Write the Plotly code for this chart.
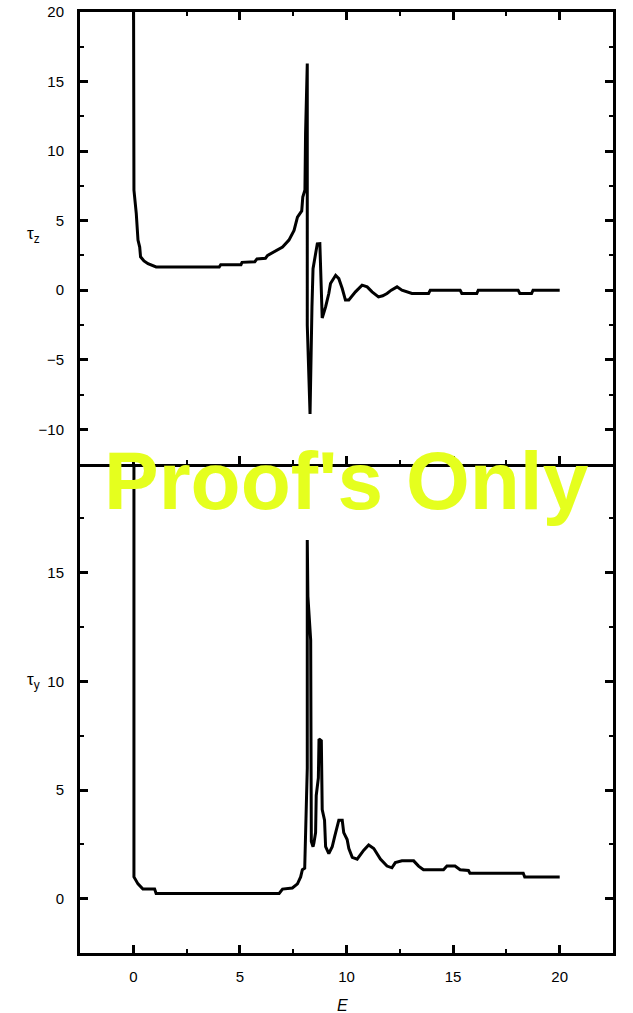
import plotly.graph_objects as go
from plotly.subplots import make_subplots

# ---- data ----
E_z = [0.0, 0.03, 0.14, 0.22, 0.30, 0.34, 0.50, 0.69, 1.07, 4.03, 4.10, 5.05, 5.10, 5.70, 5.80,
       6.20, 6.30, 6.60, 7.00, 7.30, 7.54, 7.70, 7.90, 7.95, 8.05, 8.08, 8.16, 8.16, 8.29, 8.38,
       8.43, 8.63, 8.75, 8.86, 9.02, 9.17, 9.25, 9.49, 9.64, 9.80, 9.95, 10.11, 10.42, 10.73,
       10.97, 11.20, 11.50, 11.70, 11.90, 12.10, 12.37, 12.60, 13.07, 13.85, 13.93, 15.33,
       15.41, 16.11, 16.18, 18.05, 18.13, 18.68, 18.75, 20.0]
tau_z = [30.0, 7.2, 5.5, 3.6, 3.1, 2.4, 2.1, 1.9, 1.67, 1.67, 1.83, 1.83, 2.0, 2.05, 2.25,
         2.3, 2.5, 2.75, 3.1, 3.6, 4.3, 5.25, 5.7, 6.7, 7.2, 11.3, 16.3, -2.5, -8.9, -1.2,
         1.55, 3.33, 3.35, -2.0, -1.2, -0.24, 0.48, 1.07, 0.83, 0.12, -0.71, -0.71, -0.12, 0.36,
         0.24, -0.12, -0.48, -0.4, -0.24, 0.0, 0.24, 0.0, -0.24, -0.24, 0.0, 0.0,
         -0.24, -0.24, 0.0, 0.0, -0.24, -0.24, 0.0, 0.0]

E_y = [0.03, 0.03, 0.22, 0.45, 1.00, 1.07, 6.84, 7.00, 7.46, 7.70, 7.85, 7.93, 8.04, 8.10,
       8.16, 8.16, 8.19, 8.32, 8.35, 8.43, 8.47, 8.55, 8.58, 8.68, 8.71, 8.82, 8.86, 8.97,
       9.02, 9.17, 9.33, 9.45, 9.56, 9.64, 9.80, 9.87, 10.03, 10.11, 10.27, 10.50, 10.81,
       11.04, 11.28, 11.59, 11.90, 12.13, 12.29, 12.60, 13.15, 13.38, 13.61, 14.55, 14.71,
       15.09, 15.33, 15.72, 15.79, 18.29, 18.36, 20.0]
tau_y = [30.0, 1.0, 0.68, 0.44, 0.44, 0.24, 0.24, 0.44, 0.49, 0.68, 1.0, 1.33, 1.4, 3.9,
         6.0, 16.5, 13.9, 11.9, 2.63, 2.39, 2.55, 3.04, 4.75, 5.56, 7.35, 7.27, 4.1, 3.61,
         2.39, 2.07, 2.39, 2.88, 3.37, 3.61, 3.61, 3.04, 2.72, 2.31, 1.9, 1.82, 2.23,
         2.47, 2.31, 1.82, 1.5, 1.42, 1.66, 1.74, 1.74, 1.5, 1.33, 1.33, 1.5,
         1.5, 1.33, 1.3, 1.17, 1.17, 1.0, 1.0]

x_ticks = [0, 5, 10, 15, 20]
yz_ticks = [-10, -5, 0, 5, 10, 15, 20]
yy_ticks = [0, 5, 10, 15]

FONT = "Liberation Sans, Arial, Helvetica, sans-serif"

fig = make_subplots(rows=2, cols=1, shared_xaxes=True, vertical_spacing=0,
                    row_heights=[0.4804, 0.5196])

fig.add_trace(go.Scatter(x=E_z, y=tau_z, mode="lines",
                         line=dict(color="black", width=3), showlegend=False), row=1, col=1)
fig.add_trace(go.Scatter(x=E_y, y=tau_y, mode="lines",
                         line=dict(color="black", width=3), showlegend=False), row=2, col=1)

common_axis = dict(showline=True, linecolor="black", linewidth=3, showgrid=False,
                   zeroline=False, ticks="inside", ticklen=8, tickwidth=3, tickcolor="black",
                   automargin=False, ticklabeloverflow="allow",
                   tickfont=dict(family=FONT, size=15, color="black"))
minor_ticks = dict(ticks="inside", ticklen=4, tickwidth=2, tickcolor="black",
                   tick0=0, dtick=2.5)

fig.update_xaxes(range=[-2.5, 22.5], tickvals=x_ticks, minor=minor_ticks, **common_axis)
fig.update_xaxes(showticklabels=False, mirror="allticks", row=1, col=1)
fig.update_xaxes(ticklabelstandoff=8, mirror=False, row=2, col=1)

fig.update_yaxes(mirror="allticks", ticklabelstandoff=10, minor=minor_ticks, **common_axis)
fig.update_yaxes(range=[-12.5, 20], tickvals=yz_ticks, row=1, col=1)
fig.update_yaxes(range=[-2.5, 20], tickvals=yy_ticks, row=2, col=1)

annotations = [
    dict(text="τ<sub>z</sub>", x=-0.103, y=0.777, xref="paper", yref="paper",
         showarrow=False, font=dict(family=FONT, size=17, color="black")),
    dict(text="τ<sub>y</sub>", x=-0.103, y=0.275, xref="paper", yref="paper",
         showarrow=False, font=dict(family=FONT, size=17, color="black")),
    dict(text="<i>E</i>", x=0.493, y=-0.0666, xref="paper", yref="paper",
         showarrow=False, font=dict(family=FONT, size=16, color="black")),
    dict(text="<b>Proof's Only</b>", x=0.5, y=0.502, xref="paper", yref="paper",
         xanchor="center", yanchor="middle", showarrow=False,
         font=dict(family=FONT, size=82, color="#e5ff1e")),
]

fig.update_layout(width=633, height=1013, plot_bgcolor="white", paper_bgcolor="white",
                  margin=dict(l=79.5, r=19.5, t=11.5, b=59.5), annotations=annotations)

fig.write_html("out.html", config={"displayModeBar": False},
               post_script="document.body.style.margin='0';")
